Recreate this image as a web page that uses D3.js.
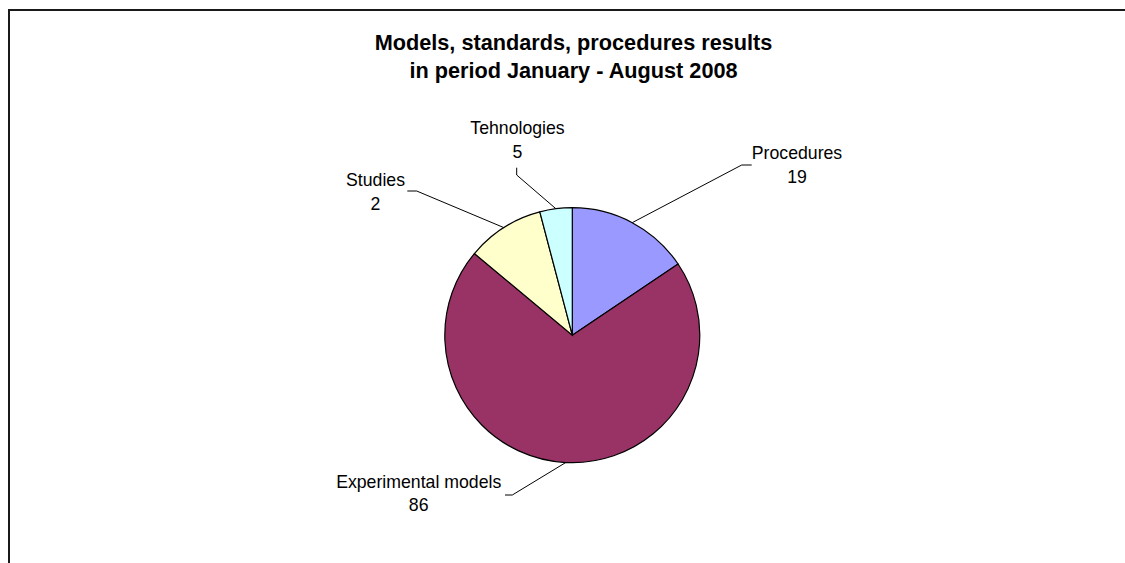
<!DOCTYPE html>
<html>
<head>
<meta charset="utf-8">
<script src="https://cdn.jsdelivr.net/npm/d3@7"></script>
<style>
  html, body { margin: 0; padding: 0; background: #fff; overflow: hidden; }
  svg { display: block; }
  text { font-family: "Liberation Sans", Arial, sans-serif; fill: #000; }
</style>
</head>
<body>
<svg id="chart" width="1125" height="563"></svg>
<script>
// ---- data ----
const titleLines = ["Models, standards, procedures results", "in period January - August 2008"];
const categories = ["Procedures", "Experimental models", "Studies", "Tehnologies"];
const sliceValues = [19, 86, 12, 5];          // slice sizes
const valueLabels = ["19", "86", "2", "5"];    // value text as printed on the chart
const colors = ["#9999FF", "#993366", "#FFFFCC", "#CCFFFF"];

// ---- layout (style, not data) ----
const W = 1125, H = 563;
const cx = 572.3, cy = 335.2, R = 127.5;
const labelFont = 17.7, lineGap = 23.6;
// label text centre/baseline offsets from pie centre, and leader elbow/end offsets
const labelLayout = [
  { tx: 224.7, ty: -175.9, elbow: [169.4, -170.2], end: [179.4, -170.2] },
  { tx: -153.6, ty: 152.5, elbow: [-60.0, 159.8], end: [-67.3, 159.8] },
  { tx: -196.8, ty: -149.2, elbow: [-155.6, -144.2], end: [-165.0, -144.2] },
  { tx: -54.8, ty: -200.9, elbow: [-55.6, -160.2], end: [-55.6, -167.5] }
];

const svg = d3.select("#chart");

// chart frame
svg.append("path")
  .attr("d", `M9,${H + 5} V10 H${W + 5}`)
  .attr("fill", "none")
  .attr("stroke", "#1a1a1a")
  .attr("stroke-width", 2);

// title
const title = svg.append("text")
  .attr("text-anchor", "middle")
  .attr("font-size", 21.7)
  .attr("font-weight", "bold");
titleLines.forEach((t, i) => {
  title.append("tspan").attr("x", 573.5).attr("y", 50 + i * 28.3).text(t);
});

// pie
const pie = d3.pie().sort(null).value(d => d.v);
const arcs = pie(categories.map((c, i) => ({ c, v: sliceValues[i], i })));
const arc = d3.arc().innerRadius(0).outerRadius(R);

const g = svg.append("g").attr("transform", `translate(${cx},${cy})`);
g.selectAll("path.slice")
  .data(arcs)
  .join("path")
  .attr("class", "slice")
  .attr("d", arc)
  .attr("fill", d => colors[d.data.i])
  .attr("stroke", "#000")
  .attr("stroke-width", 1.2);

// leader lines
g.selectAll("path.leader")
  .data(arcs)
  .join("path")
  .attr("class", "leader")
  .attr("fill", "none")
  .attr("stroke", "#000")
  .attr("stroke-width", 1)
  .attr("d", d => {
    const a = (d.startAngle + d.endAngle) / 2;
    const p0 = [Math.sin(a) * R, -Math.cos(a) * R];
    const L = labelLayout[d.data.i];
    return d3.line()([p0, L.elbow, L.end]);
  });

// labels
const labels = g.selectAll("text.lbl")
  .data(arcs)
  .join("text")
  .attr("class", "lbl")
  .attr("text-anchor", "middle")
  .attr("font-size", labelFont);
labels.append("tspan")
  .attr("x", d => labelLayout[d.data.i].tx)
  .attr("y", d => labelLayout[d.data.i].ty)
  .text(d => d.data.c);
labels.append("tspan")
  .attr("x", d => labelLayout[d.data.i].tx)
  .attr("y", d => labelLayout[d.data.i].ty + lineGap)
  .text(d => valueLabels[d.data.i]);
</script>
</body>
</html>
